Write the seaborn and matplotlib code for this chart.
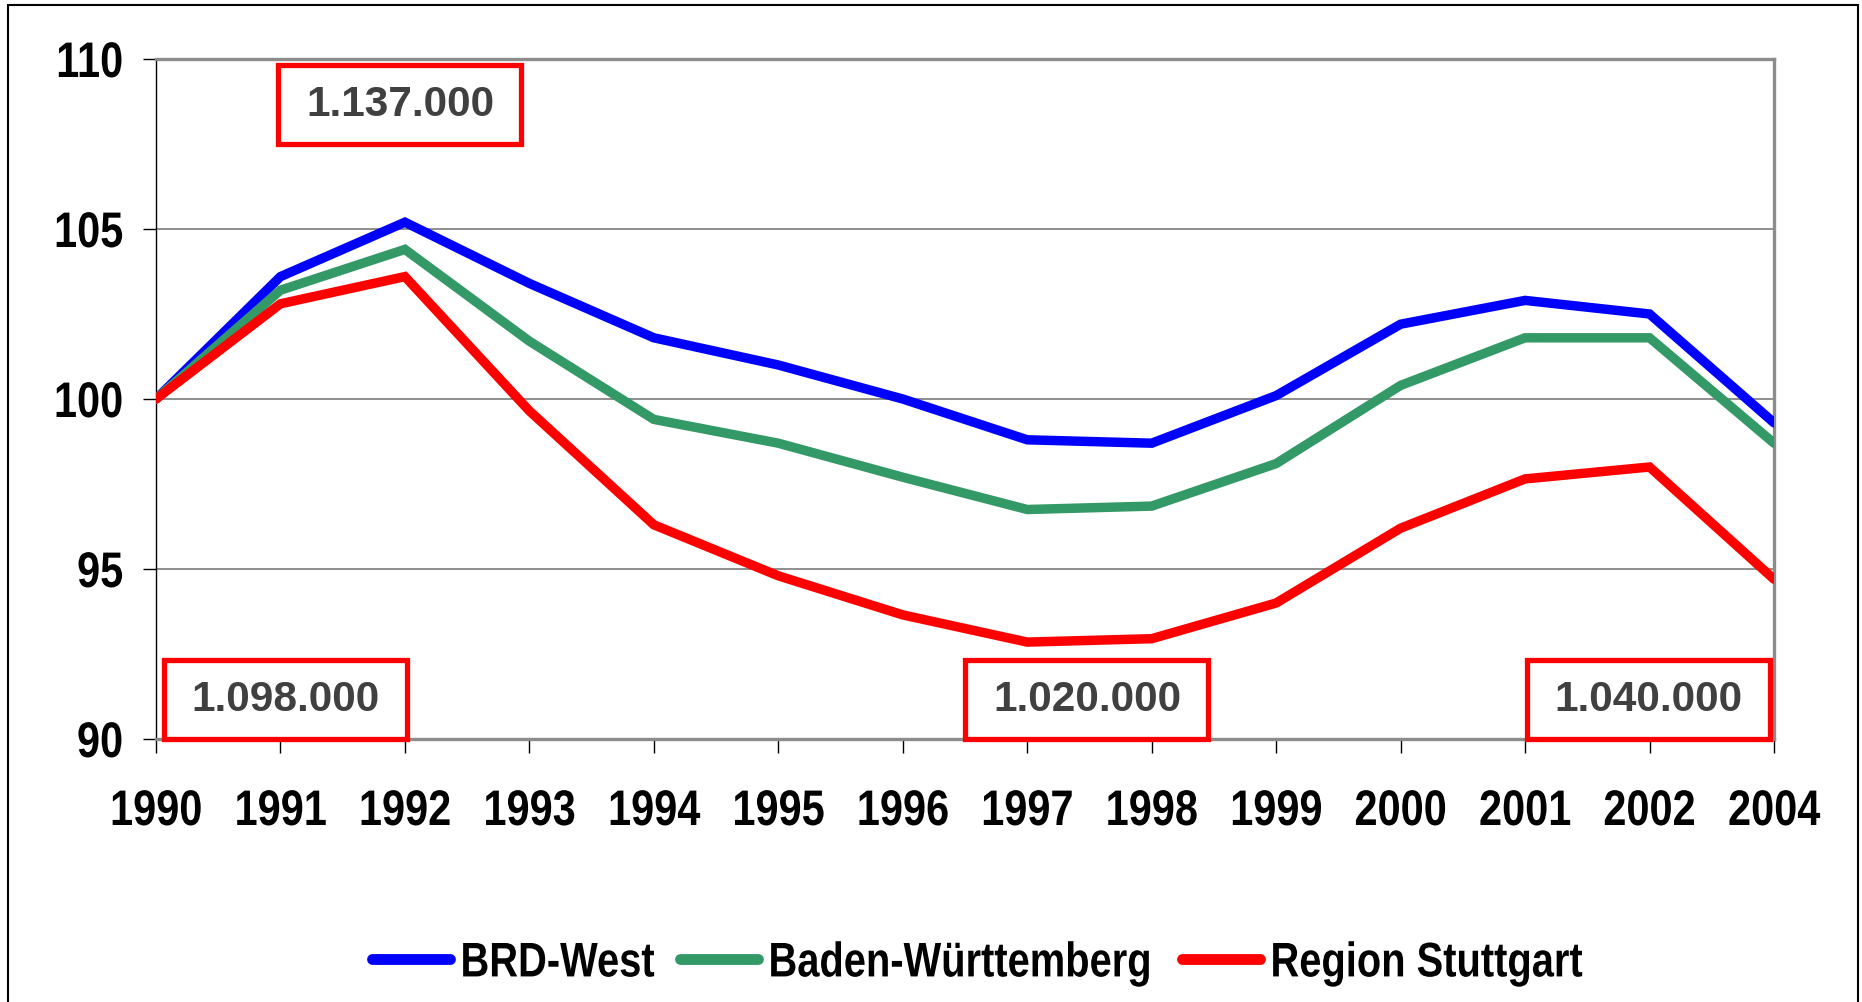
import matplotlib
matplotlib.use("Agg")
import matplotlib.pyplot as plt
import pandas as pd
import seaborn as sns
from matplotlib.patches import Rectangle
from matplotlib.patheffects import AbstractPathEffect
from matplotlib.transforms import Affine2D

# ---------------- data ----------------
years = ['1990', '1991', '1992', '1993', '1994', '1995', '1996',
         '1997', '1998', '1999', '2000', '2001', '2002', '2004']
brd_west = [100.0, 103.6, 105.2, 103.4, 101.8, 101.0, 100.0,
            98.8, 98.7, 100.1, 102.2, 102.9, 102.5, 99.3]
baden_wuerttemberg = [100.0, 103.2, 104.4, 101.7, 99.4, 98.7, 97.7,
                      96.75, 96.85, 98.1, 100.4, 101.8, 101.8, 98.7]
region_stuttgart = [100.0, 102.8, 103.6, 99.65, 96.3, 94.8, 93.65,
                    92.85, 92.95, 94.0, 96.2, 97.65, 98.0, 94.7]
series_names = ['BRD-West', 'Baden-Württemberg', 'Region Stuttgart']
series_colors = ['#0000FF', '#339966', '#FF0000']
y_ticks = [90, 95, 100, 105, 110]

box_labels = ['1.137.000', '1.098.000', '1.020.000', '1.040.000']
box_x = [1.96, 1.04, 7.48, 11.99]
box_y = [108.65, 91.15, 91.15, 91.15]


class Condense(AbstractPathEffect):
    """Horizontally compress text glyph paths (emulates a narrow typeface)."""

    def __init__(self, sx=0.82, anchor='center'):
        super().__init__()
        self.sx = sx
        self.anchor = anchor

    def draw_path(self, renderer, gc, tpath, affine, rgbFace=None):
        ext = tpath.get_extents()
        if self.anchor == 'center':
            a = (ext.x0 + ext.x1) / 2
        elif self.anchor == 'right':
            a = ext.x1
        else:
            a = 0.0
        t = Affine2D().translate(-a, 0).scale(self.sx, 1).translate(a, 0) + affine
        renderer.draw_path(gc, tpath, t, rgbFace)


# ---------------- frame ----------------
df = pd.concat([
    pd.DataFrame({'Jahr': years, 'Wert': vals, 'Serie': name})
    for name, vals in zip(series_names, [brd_west, baden_wuerttemberg, region_stuttgart])
], ignore_index=True)

sns.set_style('white')
font = ['Liberation Sans', 'DejaVu Sans']
plt.rcParams['font.family'] = font
plt.rcParams['text.color'] = 'black'

fig = plt.figure(figsize=(18.62, 10.02), dpi=100)
ax = fig.add_axes([156 / 1862, 1 - 739 / 1002, (1774 - 156) / 1862, (739 - 59) / 1002])

sns.lineplot(data=df, x='Jahr', y='Wert', hue='Serie',
             palette=dict(zip(series_names, series_colors)),
             linewidth=6.8, sort=False, ax=ax)
for ln in ax.lines:
    ln.set_solid_capstyle('round')
    ln.set_solid_joinstyle('miter')
    ln.set_zorder(3)

ax.set_xlim(0, len(years) - 1)
ax.set_ylim(90, 110)
ax.set_xlabel('')
ax.set_ylabel('')
ax.set_yticks(y_ticks)
ax.set_yticklabels([str(v) for v in y_ticks])
for v in y_ticks[1:-1]:
    ax.axhline(v, color='#707070', lw=1.1, zorder=1)

ax.tick_params(axis='y', direction='out', length=9.5, width=1, color='black', pad=14, left=True)
ax.tick_params(axis='x', direction='out', length=10, width=1, color='black', pad=26, bottom=True)

ax.spines['left'].set_color('black')
ax.spines['left'].set_linewidth(1.0)
for s in ['top', 'right', 'bottom']:
    ax.spines[s].set_color('#8c8c8c')
    ax.spines[s].set_linewidth(2.4)
    ax.spines[s].set_visible(True)


def style_ticklabels():
    for lab in ax.get_xticklabels():
        lab.set_fontsize(36)
        lab.set_fontweight('bold')
        lab.set_color('black')
        lab.set_path_effects([Condense(0.83, 'center')])
    for lab in ax.get_yticklabels():
        lab.set_fontsize(36)
        lab.set_fontweight('bold')
        lab.set_color('black')
        lab.set_path_effects([Condense(0.83, 'right')])


style_ticklabels()

# legend: one entry per legend, positioned like the reference
handles, labels = ax.get_legend_handles_labels()
ax.get_legend().remove()
legend_left_px = [372, 680, 1182]
for h, l, xpx in zip(handles, labels, legend_left_px):
    leg = fig.legend([h], [l], loc='center left', bbox_to_anchor=(xpx / 1862, 0.038),
                     frameon=False, handlelength=1.6, handletextpad=0.22,
                     borderpad=0, borderaxespad=0,
                     prop={'family': font, 'weight': 'bold', 'size': 35})
    for hl in leg.get_lines():
        hl.set_linewidth(7.8)
        hl.set_solid_capstyle('round')
    for tx in leg.get_texts():
        tx.set_color('black')
        tx.set_path_effects([Condense(0.82, 'left')])

# annotation boxes
texts = []
for lbl, xx, yy in zip(box_labels, box_x, box_y):
    t = ax.text(xx, yy, lbl, ha='center', va='center', fontsize=30.5, fontweight='bold',
                color='#404040', family=font, zorder=6)
    texts.append(t)

fig.canvas.draw()
style_ticklabels()
renderer = fig.canvas.get_renderer()
inv = ax.transData.inverted()
for t in texts:
    bb = t.get_window_extent(renderer)
    cx, cy = (bb.x0 + bb.x1) / 2, (bb.y0 + bb.y1) / 2
    w, h = 243, 79
    (x0, y0) = inv.transform((cx - w / 2, cy - h / 2))
    (x1, y1) = inv.transform((cx + w / 2, cy + h / 2))
    ax.add_patch(Rectangle((x0, y0), x1 - x0, y1 - y0, facecolor='white',
                           edgecolor='#FF0000', lw=3.8, zorder=5, clip_on=False))

# outer frame
fig.patches.append(Rectangle((8 / 1862, -0.05), (1858 - 8) / 1862, 1.05 - 5 / 1002,
                             transform=fig.transFigure, fill=False, edgecolor='black',
                             lw=1.5, zorder=10))

fig.savefig('out.png', dpi=100, facecolor='white')
